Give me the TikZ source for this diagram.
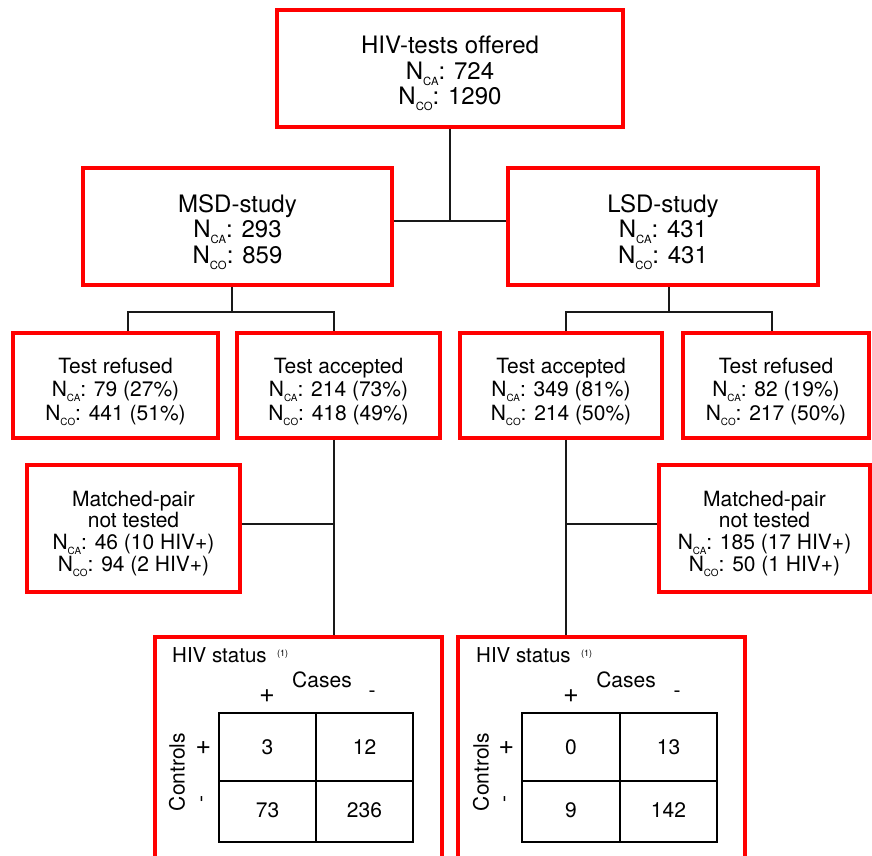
\documentclass[tikz,border=0pt]{standalone}
\usepackage{fontspec}
\setmainfont{TeX Gyre Heros}
\newcommand\sbs[1]{\raisebox{-0.24em}{\scalebox{0.47}{#1}}}
\begin{document}
\begin{tikzpicture}[x=1pt,y=-1pt,
  box/.style={draw=red, line width=3.7pt, fill=white, inner sep=0pt},
  btxt/.style={inner sep=0pt, align=center, font=\fontsize{24}{25.5}\selectfont},
  stxt/.style={inner sep=0pt, align=center, font=\fontsize{21}{23.5}\selectfont},
  mtxt/.style={inner sep=0pt, align=center, font=\fontsize{21}{21.7}\selectfont},
  conn/.style={draw=black!90, line width=2.5pt},
  tline/.style={draw=black, line width=2.6pt},
  lbl/.style={inner sep=0pt, font=\fontsize{21}{23}\selectfont},
  sgn/.style={inner sep=0pt, font=\fontsize{27}{28}\selectfont},
  cell/.style={inner sep=0pt, font=\fontsize{21}{23}\selectfont}]
\useasboundingbox (0,0) rectangle (872,855);
\clip (0,0) rectangle (872,855);
\fill[white] (0,0) rectangle (872,855);

% boxes
\node[box, minimum width=346pt, minimum height=117pt] (top) at (450,68.5) {};
\node[box, minimum width=309pt, minimum height=117pt] (msd) at (237.5,226.5) {};
\node[box, minimum width=310pt, minimum height=117pt] (lsd) at (663,226.5) {};
\node[box, minimum width=205pt, minimum height=105pt] (refL) at (115.5,385.5) {};
\node[box, minimum width=203pt, minimum height=105pt] (accL) at (338.5,385.5) {};
\node[box, minimum width=202pt, minimum height=105pt] (accR) at (561,385.5) {};
\node[box, minimum width=186pt, minimum height=105pt] (refR) at (776,385.5) {};
\node[box, minimum width=213pt, minimum height=127pt] (mpL) at (133.5,528.5) {};
\node[box, minimum width=211pt, minimum height=127pt] (mpR) at (764.5,528.5) {};
\node[box, minimum width=287pt, minimum height=263pt] (hivL) at (298.5,768.5) {};
\node[box, minimum width=287pt, minimum height=263pt] (hivR) at (601.5,768.5) {};

% box texts
\node[btxt] (topT) at ([yshift=-5pt]top.center) {HIV-tests offered\\N\sbs{CA}: 724\\N\sbs{CO}: 1290};
\node[btxt] (msdT) at ([yshift=-5.5pt]msd.center) {MSD-study\\N\sbs{CA}: 293\\N\sbs{CO}: 859};
\node[btxt] (lsdT) at ([yshift=-5.5pt]lsd.center) {LSD-study\\N\sbs{CA}: 431\\N\sbs{CO}: 431};
\node[stxt] (refLT) at ([yshift=-6pt]refL.center) {Test refused\\N\sbs{CA}: 79 (27\%)\\N\sbs{CO}: 441 (51\%)};
\node[stxt] (accLT) at ([yshift=-6pt]accL.center) {Test accepted\\N\sbs{CA}: 214 (73\%)\\N\sbs{CO}: 418 (49\%)};
\node[stxt] (accRT) at ([yshift=-6pt]accR.center) {Test accepted\\N\sbs{CA}: 349 (81\%)\\N\sbs{CO}: 214 (50\%)};
\node[stxt] (refRT) at ([yshift=-6pt]refR.center) {Test refused\\N\sbs{CA}: 82 (19\%)\\N\sbs{CO}: 217 (50\%)};
\node[mtxt] (mpLT) at ([yshift=-5pt]mpL.center) {Matched-pair\\not tested\\N\sbs{CA}: 46 (10 HIV+)\\N\sbs{CO}: 94 (2 HIV+)};
\node[mtxt] (mpRT) at ([yshift=-5pt]mpR.center) {Matched-pair\\not tested\\N\sbs{CA}: 185 (17 HIV+)\\N\sbs{CO}: 50 (1 HIV+)};

% connectors
\coordinate (j0) at (450,221);
\draw[conn] (top.south) -- (j0);
\draw[conn] (msd.east |- j0) -- (lsd.west |- j0);

\coordinate (jL) at (232,312);
\coordinate (aL1) at (128,312);
\coordinate (aL2) at (334,312);
\draw[conn] (msd.south -| jL) -- (jL);
\draw[conn] (aL1 |- refL.north) -- (aL1) -- (aL2) -- (aL2 |- accL.north);

\coordinate (jR) at (669,312);
\coordinate (aR1) at (566,312);
\coordinate (aR2) at (772,312);
\draw[conn] (lsd.south -| jR) -- (jR);
\draw[conn] (aR1 |- accR.north) -- (aR1) -- (aR2) -- (aR2 |- refR.north);

\coordinate (mL) at (334,524);
\draw[conn] (accL.south -| mL) -- (hivL.north -| mL);
\draw[conn] (mpL.east |- mL) -- (mL);
\coordinate (mR) at (566,524);
\draw[conn] (accR.south -| mR) -- (hivR.north -| mR);
\draw[conn] (mpR.west |- mR) -- (mR);

% left table
\node[anchor=base west, inner sep=0pt, font=\fontsize{20.5}{22}\selectfont] (hsL) at (172,662) {HIV status};
\node[anchor=base west, inner sep=0pt, font=\fontsize{9}{10}\selectfont] (nL) at (277,656) {(1)};
\node[lbl] (casesL) at (322,680) {Cases};
\node[sgn] (cpL) at (267,696) {+};
\node[lbl] (cmL) at (372,694) {-};
\node[lbl, rotate=90] (ctrlL) at (177,772) {Controls};
\node[sgn, rotate=90] (rpL) at (204,748) {+};
\node[lbl, rotate=90] (rmL) at (204,799) {-};
\draw[tline] (219,713) rectangle (413,842);
\draw[tline] (316,713) -- (316,842);
\draw[tline] (219,781) -- (413,781);
\node[cell] (c11L) at (267.5,747) {3};
\node[cell] (c12L) at (364.5,747) {12};
\node[cell] (c21L) at (267.5,810) {73};
\node[cell] (c22L) at (364.5,810) {236};

% right table
\node[anchor=base west, inner sep=0pt, font=\fontsize{20.5}{22}\selectfont] (hsR) at (476,662) {HIV status};
\node[anchor=base west, inner sep=0pt, font=\fontsize{9}{10}\selectfont] (nR) at (581,656) {(1)};
\node[lbl] (casesR) at (626,680) {Cases};
\node[sgn] (cpR) at (571,696) {+};
\node[lbl] (cmR) at (677,694) {-};
\node[lbl, rotate=90] (ctrlR) at (481,772) {Controls};
\node[sgn, rotate=90] (rpR) at (507,748) {+};
\node[lbl, rotate=90] (rmR) at (507,799) {-};
\draw[tline] (522,713) rectangle (717,842);
\draw[tline] (620,713) -- (620,842);
\draw[tline] (522,781) -- (717,781);
\node[cell] (c11R) at (571,747) {0};
\node[cell] (c12R) at (668.5,747) {13};
\node[cell] (c21R) at (571,810) {9};
\node[cell] (c22R) at (668.5,810) {142};
\end{tikzpicture}
\end{document}
